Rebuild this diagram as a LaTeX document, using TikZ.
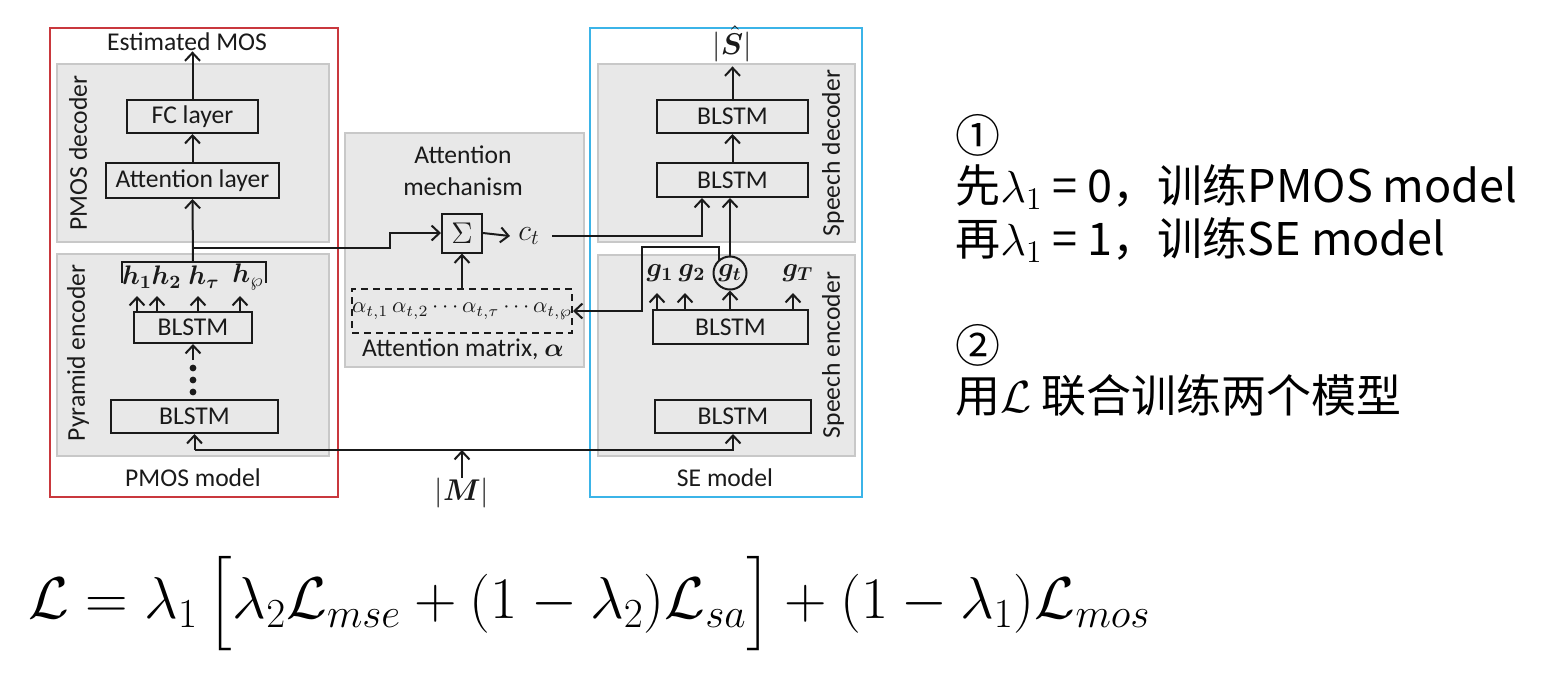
\RequirePackage{fix-cm}
\documentclass[tikz,border=0pt]{standalone}
\usepackage{graphicx}
\usepackage{fontspec}
\setmainfont{Carlito}
\newfontfamily\cjk{Noto Sans CJK SC}
\usepackage{amsmath,bm}
\usetikzlibrary{arrows.meta}
\definecolor{panelgray}{HTML}{E8E8E8}
\definecolor{panelborder}{HTML}{C8C8C8}
\definecolor{pmosred}{HTML}{C9383D}
\definecolor{seblue}{HTML}{3BB4E8}
\definecolor{ink}{HTML}{1A1A1A}
\begin{document}
\begin{tikzpicture}[x=0.5pt,y=-0.5pt,
  every node/.style={font=\fontsize{12.8}{15}\selectfont, text=ink, inner sep=0pt},
  panel/.style={fill=panelgray, draw=panelborder, line width=0.8pt},
  redframe/.style={draw=pmosred, line width=0.9pt},
  blueframe/.style={draw=seblue, line width=1pt},
  blk/.style={draw=ink, line width=1pt},
  arr/.style={draw=ink, line width=1pt, -{Straight Barb[length=4pt,width=7.5pt]}},
  conn/.style={draw=ink, line width=1pt},
  vlabel/.style={rotate=90},
  mlab/.style={font=\fontsize{13.4}{16}\selectfont},
  rtext/.style={font=\cjk\fontsize{22.5}{27}\selectfont, anchor=west, text=black},
]
\useasboundingbox (0,0) rectangle (1556,677);
\fill[white] (0,0) rectangle (1556,677);

% frames and panels
\draw[redframe] (50,28) rectangle (338,497);
\draw[blueframe] (590,28) rectangle (862,497);
\draw[panel] (57,64) rectangle (329,242);
\draw[panel] (57,254) rectangle (329,456);
\draw[panel] (345,133) rectangle (584,367);
\draw[panel] (598,64) rectangle (855,242);
\draw[panel] (598,255) rectangle (855,456);

% labels
\node (est) at (187,42) {Estimated MOS};
\node (pmosm) at (193,478) {PMOS model};
\node (sem) at (725,478) {SE model};
\node[font=\fontsize{15}{17}\selectfont] (shat) at (732,44) {$\lvert\hat{\bm{S}}\rvert$};
\node[font=\fontsize{15}{17}\selectfont] (M) at (462,493) {$\lvert\bm{M}\rvert$};
\node[align=center, font=\fontsize{12.8}{16}\selectfont] (attmech) at (463,171) {Attention\\mechanism};
\node (attmat) at (463,349) {Attention matrix, $\bm{\alpha}$};
\node[vlabel] (lpd) at (78,153) {PMOS decoder};
\node[vlabel] (lpe) at (78,353) {Pyramid encoder};
\node[vlabel] (lsd) at (833,153) {Speech decoder};
\node[vlabel] (lse) at (833,355) {Speech encoder};

% PMOS blocks
\node[blk, minimum width=65.5pt, minimum height=16.5pt] (fc) at (192.5,116.5) {FC layer};
\node[blk, minimum width=86.5pt, minimum height=17.5pt] (attl) at (192.5,180.5) {Attention layer};
\node[blk, minimum width=59pt, minimum height=15.5pt] (pb1) at (193,327.5) {BLSTM};
\node[blk, minimum width=83.5pt, minimum height=16.5pt] (pb2) at (194.5,416.5) {BLSTM};

\node[mlab] (h1) at (137,277) {$\bm{h}_{\bm{1}}$};
\node[mlab] (h2) at (166.5,277) {$\bm{h}_{\bm{2}}$};
\node[mlab] (ht) at (204,277) {$\bm{h}_{\bm{\tau}}$};
\node[mlab] (hp) at (248,277) {$\bm{h}_{\wp}$};

% attention blocks
\node[blk, minimum width=20pt, minimum height=19.5pt, font=\fontsize{15}{15}\selectfont] (sig) at (462,233) {$\Sigma$};
\node[blk, dashed, dash pattern=on 3.5pt off 2.5pt, minimum width=107pt, minimum height=22pt, font=\fontsize{11.2}{13}\selectfont] (dash) at (462,311) {$\alpha_{t,1}\,\alpha_{t,2}\cdots\alpha_{t,\tau}\cdots\alpha_{t,\wp}$};
\node[font=\fontsize{15}{17}\selectfont] (ct) at (529,236) {$c_t$};

% SE blocks
\node[blk, minimum width=75.5pt, minimum height=16.5pt] (sd1) at (732.5,116.5) {BLSTM};
\node[blk, minimum width=75.5pt, minimum height=17pt] (sd2) at (732.5,180) {BLSTM};
\node[blk, minimum width=77.5pt, minimum height=17pt] (se1) at (730.5,327) {BLSTM};
\node[blk, minimum width=78pt, minimum height=16.5pt] (se2) at (733,416.5) {BLSTM};
\node[blk, circle, minimum size=16.5pt, mlab] (gt) at (730,273) {$\bm{g}_{\bm{t}}$};
\node[mlab] (g1) at (660,273) {$\bm{g}_{\bm{1}}$};
\node[mlab] (g2) at (692,273) {$\bm{g}_{\bm{2}}$};
\node[mlab] (gT) at (798,273) {$\bm{g}_{\bm{T}}$};

% PMOS connectors
\draw[arr] (fc.north) -- (fc.north |- est.south);
\draw[arr] (attl.north) -- (fc.south);
\coordinate (btl) at (122,262);
\coordinate (btr) at (266,262);
\coordinate (bbl) at (122,283);
\coordinate (bbr) at (266,283);
\coordinate (hb) at (193,262);
\draw[conn] (bbl) -- (btl) -- (btr) -- (bbr);
\draw[arr] (hb) -- (attl.south);
\coordinate (j1) at (193,248);
\coordinate (jstep) at (390,248);
\draw[arr] (j1) -- (jstep) |- (sig.west);
\draw[arr] (pb1.north -| 137,0) -- (137,296);
\draw[arr] (pb1.north -| 157,0) -- (157,296);
\draw[arr] (pb1.north -| 198,0) -- (198,296);
\draw[arr] (pb1.north -| 240,0) -- (240,296);
\foreach \yy in {368,380,392} \fill[ink] (193,\yy) circle (1.7pt);
\coordinate (dtop) at (193,360);
\draw[arr] (dtop) -- (pb1.south);

% input bus
\coordinate (busL) at (194.5,450);
\coordinate (busR) at (733,450);
\draw[arr] (busL) -- (pb2.south);
\draw[arr] (busL) -- (busR) -- (se2.south);
\draw[arr] (M.north) -- (M.north |- busL);

% attention connectors
\draw[arr] (dash.north) -- (sig.south);
\draw[arr] (sig.east) -- ([xshift=-4pt]ct.west);
\draw[arr] ([xshift=6pt]ct.east) -| (702,0 |- sd2.south);

% SE connectors
\draw[arr] (sd1.north) -- ([yshift=-2pt]sd1.north |- shat.south);
\draw[arr] (sd2.north) -- (sd1.south);
\draw[arr] (gt.north) -- (gt.north |- sd2.south);
\coordinate (gk) at (642,247);
\draw[arr] (gt.130) |- (gk) |- (dash.east);
\draw[arr] (se1.north -| gt.south) -- (gt.south);
\draw[arr] (se1.north -| 657,0) -- (657,293);
\draw[arr] (se1.north -| 685,0) -- (685,293);
\draw[arr] (se1.north -| 793,0) -- (793,293);

% right text
\node[rtext] (c1) at (955,135) {①};
\node[rtext] (l1) at (955,187) {先$\lambda_1$ = 0，训练PMOS model};
\node[rtext] (l2) at (955,240) {再$\lambda_1$ = 1，训练SE model};
\node[rtext] (c2) at (955,345) {②};
\node[rtext] (l3) at (955,395) {用$\mathcal{L}$ 联合训练两个模型};

% formula
\node[anchor=west, text=black] (loss) at (28,604) {\resizebox{561pt}{!}{\fontsize{28}{34}\selectfont$\mathcal{L}=\lambda_1\,\bigl[\lambda_2\mathcal{L}_{mse}+(1-\lambda_2)\mathcal{L}_{sa}\bigr]+(1-\lambda_1)\mathcal{L}_{mos}$}};
\end{tikzpicture}
\end{document}
